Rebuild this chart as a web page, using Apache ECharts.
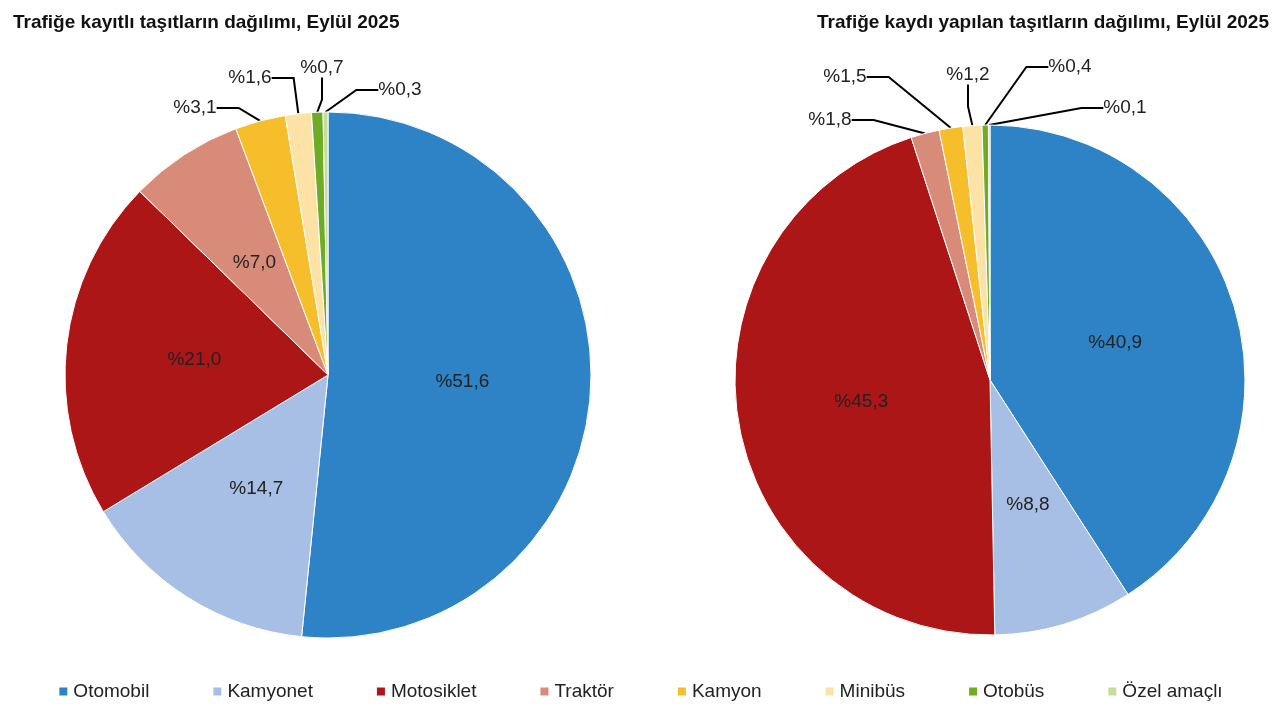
<!DOCTYPE html>
<html><head><meta charset="utf-8">
<script src="https://cdn.jsdelivr.net/npm/echarts@6/dist/echarts.min.js"></script>
<style>html,body{margin:0;background:#fff}#c{width:1280px;height:720px}</style>
</head><body><div id="c"></div>
<script>
const categories = ['Otomobil','Kamyonet','Motosiklet','Traktör','Kamyon','Minibüs','Otobüs','Özel amaçlı'];
const registered = [51.6, 14.7, 21.0, 7.0, 3.1, 1.6, 0.7, 0.3];
const newlyRegistered = [40.9, 8.8, 45.3, 1.8, 1.5, 1.2, 0.4, 0.1];
const colors = ['#2e83c6','#a7bfe4','#ad1616','#d88b78','#f7be2c','#fde2a6','#6fac25','#c6dc9c'];
// label anchor spots for the small outer slices (by data index)
const leftLabelSpots = { 4: [195, 108], 5: [250, 78], 6: [322, 68], 7: [400, 90] };
const rightLabelSpots = { 3: [830, 120], 4: [845, 77], 5: [968, 75], 6: [1070, 67], 7: [1125, 108] };

const fmt = v => '%' + v.toFixed(1).replace('.', ',');
function makeData(vals) {
  return vals.map((v, i) => {
    const out = v < 2.5 || (v < 5 && i > 3);
    return {
      name: categories[i], value: v,
      label: {
        position: out ? 'outside' : 'inside',
        fontSize: 19, color: '#222', fontFamily: 'Liberation Sans'
      },
      labelLine: { show: out }
    };
  });
}
function pie(vals, center, radius, spots) {
  return {
    type: 'pie', center, radius, startAngle: 90, clockwise: true,
    data: makeData(vals), avoidLabelOverlap: false,
    itemStyle: { borderColor: '#fff', borderWidth: 1 },
    label: { formatter: p => fmt(p.value) },
    labelLine: { length: 14, length2: 22, lineStyle: { color: '#000', width: 2 } },
    labelLayout: p => {
      const s = spots[p.dataIndex];
      return s ? { x: s[0], y: s[1], align: 'center', verticalAlign: 'middle' } : {};
    },
    emphasis: { disabled: true }
  };
}
const chart = echarts.init(document.getElementById('c'));
chart.setOption({
  color: colors,
  animation: false,
  title: [
    { text: 'Trafiğe kayıtlı taşıtların dağılımı, Eylül 2025', left: 8, top: 8,
      textStyle: { fontSize: 19, fontWeight: 'bold', color: '#111', fontFamily: 'Liberation Sans' } },
    { text: 'Trafiğe kaydı yapılan taşıtların dağılımı, Eylül 2025', right: 6, top: 8,
      textStyle: { fontSize: 19, fontWeight: 'bold', color: '#111', fontFamily: 'Liberation Sans' } }
  ],
  legend: {
    bottom: 14, left: 'center', itemGap: 62, icon: 'rect', itemWidth: 10, itemHeight: 10,
    textStyle: { fontSize: 19, color: '#222', fontFamily: 'Liberation Sans' },
    data: categories
  },
  series: [
    pie(registered, [328, 375], 263, leftLabelSpots),
    pie(newlyRegistered, [990, 380], 255, rightLabelSpots)
  ]
});
</script></body></html>
